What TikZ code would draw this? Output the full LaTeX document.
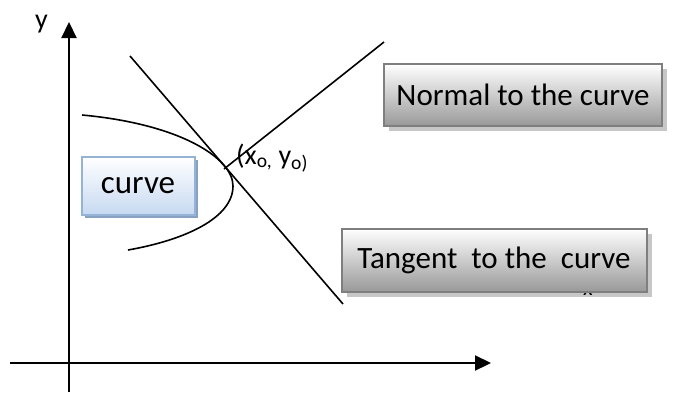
\documentclass[tikz,border=0pt]{standalone}
\usepackage{fontspec}
\setmainfont{Carlito}
\usetikzlibrary{arrows.meta,shadows}
\definecolor{boxborder}{HTML}{7F7F7F}
\definecolor{blueborder}{HTML}{95B3D7}
\definecolor{bluefill}{HTML}{C6D9F1}
\begin{document}
\begin{tikzpicture}[x=1pt,y=-1pt,
  axis/.style={line width=2.2pt,-{Triangle[length=16pt,width=15pt]}},
  plain/.style={line width=1.6pt},
  graybox/.style={draw=boxborder,line width=2pt,top color=white,bottom color=black!40,
    general shadow={fill=black!22,shadow xshift=5pt,shadow yshift=-5pt},
    inner sep=0pt,font=\fontsize{31}{35}\selectfont},
  bluebox/.style={draw=blueborder,line width=2pt,top color=white,bottom color=bluefill,
    general shadow={fill=blueborder!90!black,shadow xshift=3pt,shadow yshift=-3pt},
    inner sep=0pt,font=\fontsize{33}{37}\selectfont},
  lbl/.style={inner sep=0pt,anchor=base west}]
\useasboundingbox (0,0) rectangle (678,392);
% axes
\coordinate (yb) at (69,392);
\coordinate (yt) at (69,22);
\coordinate (xl) at (10,363);
\coordinate (xr) at (491,363);
\draw[axis] (yb) -- (yt);
\draw[axis] (xl) -- (xr);
\node[lbl,font=\fontsize{28}{32}\selectfont] (ylab) at (35,28) {y};
% curve
\coordinate (c1) at (82,115);
\coordinate (vx) at (233,186);
\coordinate (c2) at (128,250);
\draw[plain] (c1) .. controls (180,124) and (233,158) .. (vx) .. controls (233,218) and (185,240) .. (c2);
% tangent and normal
\coordinate (P) at (224,169);
\coordinate (t1) at (130,56);
\coordinate (t2) at (343,304);
\coordinate (n2) at (384,42);
\draw[plain] (t1) -- (t2);
\draw[plain] (P) -- (n2);
\node[lbl,font=\fontsize{28}{32}\selectfont] (plab) at (236,164) {(x\textsubscript{o,} y\textsubscript{o)}};
% boxes
\node[bluebox,minimum width=113pt,minimum height=58pt] (curve) at (138,186) {curve};
\node[graybox,minimum width=278pt,minimum height=62pt] (normal) at (523,95) {Normal to the curve};
\node[graybox,minimum width=305pt,minimum height=63pt] (tangent) at (494,260) {Tangent\ \ to the\ \ curve};
\begin{scope}
\clip (560,293) rectangle (620,300);
\node[lbl,font=\fontsize{22}{26}\selectfont] (xlab) at (583,295) {x};
\end{scope}
\end{tikzpicture}
\end{document}
